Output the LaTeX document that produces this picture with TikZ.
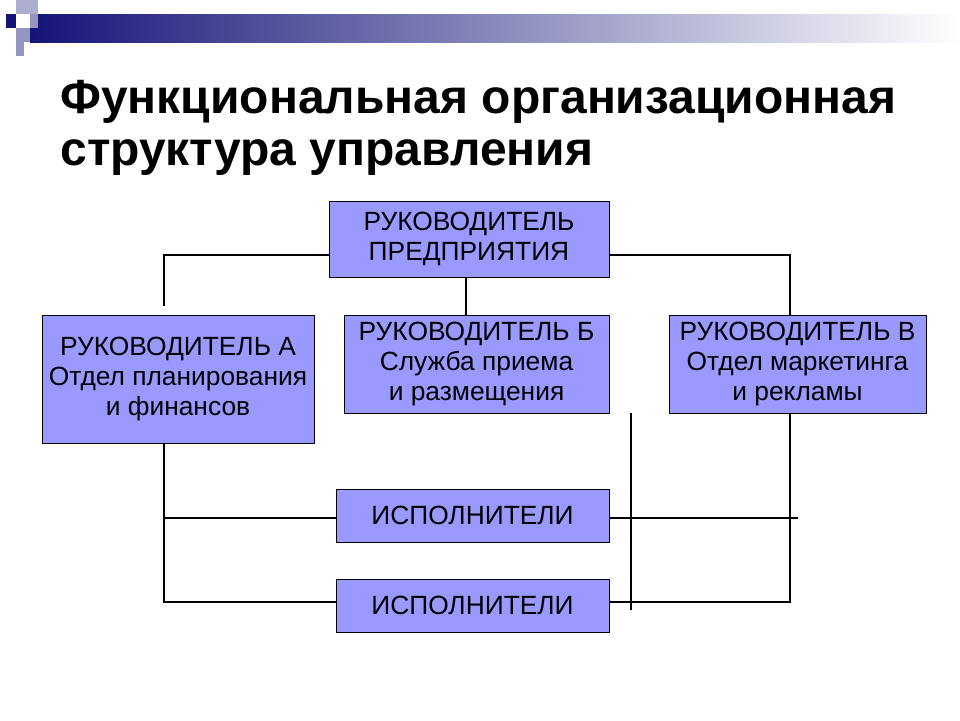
\documentclass[tikz,border=0pt]{standalone}
\usepackage{fontspec}
\setmainfont{Liberation Sans}
\usetikzlibrary{positioning}
\definecolor{boxfill}{RGB}{153,153,255}
\definecolor{navy}{RGB}{20,20,120}
\begin{document}
\begin{tikzpicture}[x=0.02cm,y=-0.02cm]
        \tikzset{unit/.style={rectangle,draw=black,fill=boxfill,inner sep=0pt,align=center,font=\fontsize{15}{17}\selectfont}}
        \tikzset{link/.style={draw=black,semithick}}
        \useasboundingbox (0,0) rectangle (960,720);
        % header bar
        \shade[left color=navy,right color=white] (30,14) rectangle (960,42);
        \fill[navy] (6,14) rectangle (16,28);
        \fill[navy!35] (16,0) rectangle (38,14);
        \fill[navy!45] (30,14) rectangle (38,28);
        \fill[navy!45] (16,28) rectangle (30,42);
        \fill[navy!45] (16,42) rectangle (24,56);
        \node[anchor=west,align=left,font=\fontsize{27.3}{29.5}\selectfont\bfseries,inner sep=0pt] (title) at (60,128)
            {Функциональная организационная\\структура управления};
        % boxes
        \node[unit,minimum width=5.6cm,minimum height=1.52cm] (head) at (469,239) {РУКОВОДИТЕЛЬ\\ПРЕДПРИЯТИЯ};
        \node[unit,minimum width=5.44cm,minimum height=2.56cm] (ra) at (178,379) {РУКОВОДИТЕЛЬ А\\Отдел планирования\\и финансов};
        \node[unit,minimum width=5.3cm,minimum height=1.96cm] (rb) at (476.5,364) {РУКОВОДИТЕЛЬ Б\\Служба приема\\ и размещения};
        \node[unit,minimum width=5.14cm,minimum height=1.96cm] (rv) at (797.5,364) {РУКОВОДИТЕЛЬ В\\Отдел маркетинга\\и рекламы};
        \node[unit,minimum width=5.46cm,minimum height=1.06cm] (ex1) at (472.5,515.5) {ИСПОЛНИТЕЛИ};
        \node[unit,minimum width=5.46cm,minimum height=1.06cm] (ex2) at (472.5,605.5) {ИСПОЛНИТЕЛИ};
        % connectors
        \coordinate (ta) at (164,306);
        \coordinate (ea) at (798,518);
        \coordinate (eb) at (631,610);
        \draw[link] (head.west |- 0,255) -| (ta);
        \draw[link] (head.east |- 0,255) -| (rv.north -| 790,0);
        \draw[link] (head.south -| 466,0) -- (rb.north -| 466,0);
        \draw[link] (ra.south -| 164,0) |- (ex2.west |- 0,602);
        \draw[link] (164,518) -- (ex1.west |- 0,518);
        \draw[link] (rb.south -| 631,0) -- (eb);
        \draw[link] (rv.south -| 790,0) |- (ex2.east |- 0,602);
        \draw[link] (ex1.east |- 0,518) -- (ea);
\end{tikzpicture}
\end{document}
